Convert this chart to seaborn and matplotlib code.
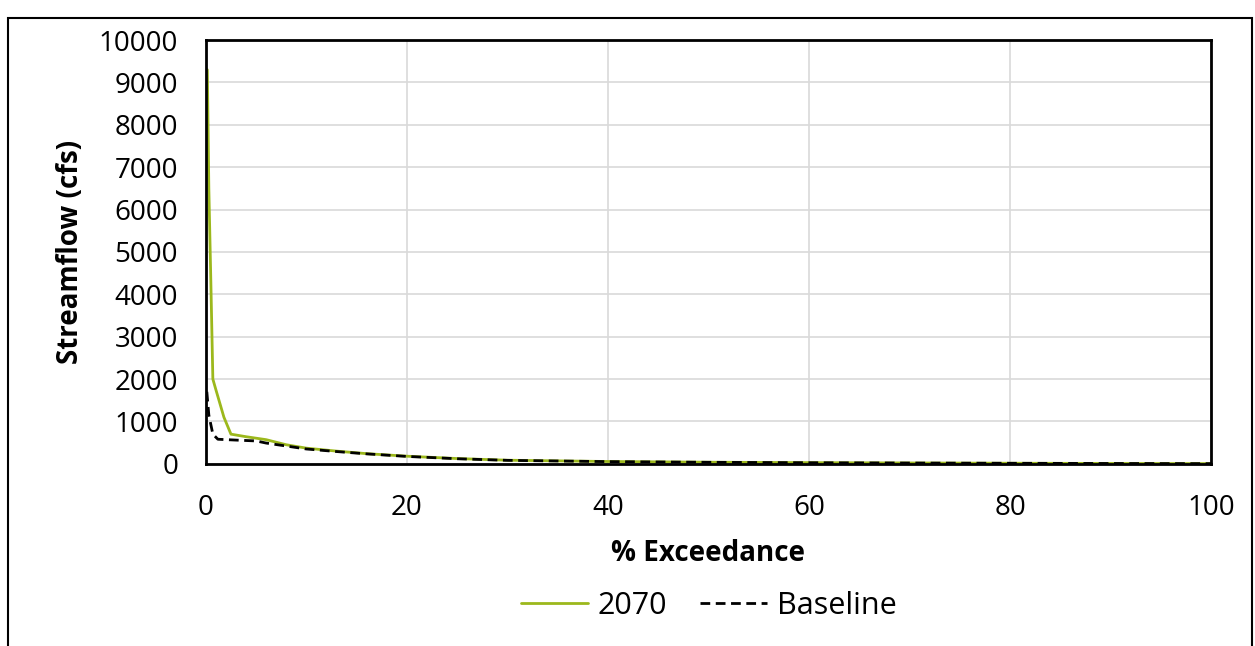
import pandas as pd
import matplotlib.pyplot as plt
import matplotlib.patches as patches
import seaborn as sns

# flow duration curves
pct_2070 = [0.15, 0.3, 0.5, 0.7, 1.0, 1.8, 2.5, 4, 6, 8, 10, 13, 16, 20, 25, 30, 40, 50, 60, 70, 80, 90, 100]
flow_2070 = [9300, 6500, 4300, 2000, 1750, 1100, 700, 640, 570, 450, 370, 300, 240, 180, 125, 85, 55, 38, 28, 20, 14, 9, 5]

pct_base = [0.1, 0.3, 0.7, 1.2, 3, 5, 6, 8, 10, 13, 16, 20, 25, 30, 40, 50, 60, 70, 80, 90, 100]
flow_base = [1700, 1150, 700, 580, 560, 540, 490, 420, 350, 290, 235, 175, 120, 82, 52, 36, 26, 19, 13, 8, 4]

df = pd.concat([
    pd.DataFrame({'pct': pct_2070, 'flow': flow_2070, 'Scenario': '2070'}),
    pd.DataFrame({'pct': pct_base, 'flow': flow_base, 'Scenario': 'Baseline'}),
])

sns.set_style('white')
plt.rcParams['font.family'] = ['Open Sans', 'DejaVu Sans']
plt.rcParams['text.color'] = 'black'
plt.rcParams['axes.labelcolor'] = 'black'
plt.rcParams['xtick.color'] = 'black'
plt.rcParams['ytick.color'] = 'black'

fig = plt.figure(figsize=(12.55, 6.46), dpi=100)
ax = fig.add_axes([0.164, 0.282, 0.801, 0.656])

sns.lineplot(data=df, x='pct', y='flow', hue='Scenario', style='Scenario',
             palette={'2070': '#9cb81c', 'Baseline': 'black'},
             dashes={'2070': '', 'Baseline': (3.5, 2)}, linewidth=2, ax=ax)

ax.set_xlim(0, 100)
ax.set_ylim(0, 10000)
ax.set_xticks(range(0, 101, 20))
ax.set_yticks(range(0, 10001, 1000))
ax.grid(True, color='#d9d9d9', linewidth=1.2)
ax.set_axisbelow(True)
for s in ax.spines.values():
    s.set_color('black')
    s.set_linewidth(2)
ax.tick_params(labelsize=20, length=0)
ax.tick_params(axis='x', pad=22)
ax.tick_params(axis='y', pad=20)

ax.set_xlabel('% Exceedance', fontsize=20, fontweight='bold', labelpad=12)
ax.set_ylabel('Streamflow (cfs)', fontsize=20, fontweight='bold', labelpad=10)

handles, labels = ax.get_legend_handles_labels()
ax.legend(handles, labels, loc='center', bbox_to_anchor=(0.5, -0.335),
          ncol=2, frameon=False, fontsize=22, handlelength=2.2,
          handletextpad=0.3, columnspacing=1.1)

# outer chart border
fig.patches.append(patches.Rectangle((0.0064, -0.05), 0.991, 1.022, transform=fig.transFigure,
                                     fill=False, edgecolor='black', linewidth=1.5, clip_on=False))

fig.savefig('out.png', dpi=100)
